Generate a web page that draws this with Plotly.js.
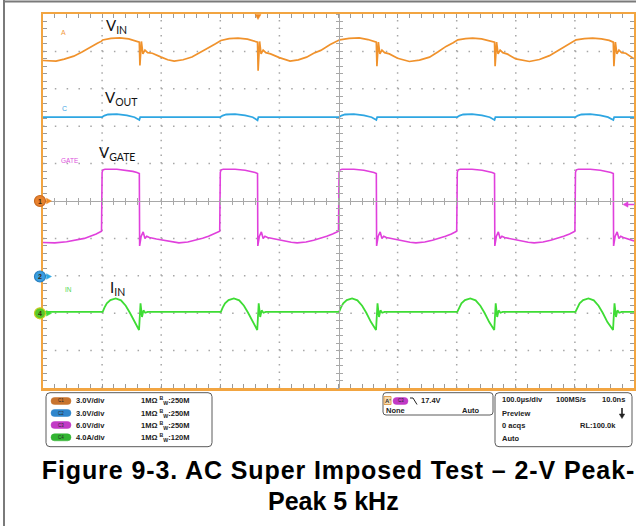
<!DOCTYPE html>
<html><head><meta charset="utf-8">
<script src="https://cdn.plot.ly/plotly-3.0.1.min.js"></script>
<style>html,body{margin:0;padding:0;background:#fff;}#chart{width:636px;height:526px;}</style>
</head><body><div id="chart"></div>
<script>
// ---- data (time in µs, values in channel units) ----
const vinT = [0,10,22,36,52,66,80,92,99,101,115,130,145,157,163,164,166.5,169,172.5,177,185,200,211,222,237,252,266,280,292,299,301,315,330,346,357,363,364,366.5,369,372.5,377,385,400,418,432,446,458,470,486,500,502,518,535,550,558,564,565,567.5,570,573.5,578,586,600,620,637,654,668,682,694,700,702,715,727,742,755,764,765,767.5,770,773.5,778,786,800,823,840,857,871,885,896,900,902,916,930,945,958,965,966,968.5,971,974.5,979,986,1000];
const vinV = [11.27,11.23,11.22,11.38,11.62,11.95,12.35,12.65,12.82,12.92,13.04,13.09,13.0,12.85,12.74,10.87,12.80,11.80,12.10,11.90,11.85,11.54,11.33,11.22,11.33,11.55,11.9,12.3,12.62,12.80,12.88,13.02,13.06,12.98,12.85,12.74,10.45,12.80,11.80,12.10,11.90,11.80,11.50,11.22,11.32,11.54,11.85,12.08,12.55,12.86,12.93,13.05,13.09,12.95,12.82,12.74,10.82,12.74,11.80,12.10,11.90,11.80,11.45,11.19,11.30,11.54,11.95,12.40,12.70,12.85,12.93,13.02,13.06,13.0,12.88,12.74,10.82,12.74,11.80,12.10,11.90,11.78,11.40,11.19,11.35,11.66,12.05,12.45,12.75,12.86,12.93,13.03,13.06,13.0,12.88,12.74,10.82,12.74,11.80,12.10,11.90,11.85,11.41];

const voutT = [0,100,104,110,125,142,155,160,163,164.5,300,304,310,325,342,355,360,363,364.5,501,505,511,526,543,556,561,564,565.5,701,705,711,726,743,756,761,764,765.5,901,905,911,926,943,956,961,965,966.5,1000];
const voutV = [12.73,12.73,12.85,12.94,12.97,12.87,12.72,12.60,12.50,12.73,12.73,12.85,12.94,12.97,12.87,12.72,12.60,12.48,12.73,12.73,12.85,12.94,12.97,12.87,12.72,12.60,12.50,12.73,12.73,12.85,12.94,12.97,12.87,12.72,12.60,12.50,12.73,12.73,12.85,12.94,12.97,12.87,12.72,12.60,12.50,12.73,12.73];

const gateT = [0,20,40,58,70,80,90,99,100,101.5,105,125,142,152,159,163,163.5,166,169.5,172.5,175.5,180,192,203,220,230,245,258,270,280,290,299,300,301.5,305,325,342,352,359,363,363.5,366,369.5,372.5,375.5,380,392,403,420,430,445,458,470,480,490,500,501,502.5,506,526,543,553,560,564,564.5,567,570.5,573.5,576.5,581,593,604,621,631,646,659,671,681,691,700,701,702.5,706,726,743,753,760,764,764.5,767,770.5,773.5,776.5,781,793,804,821,831,846,859,871,881,891,900,901,902.5,906,926,943,953,961,965,965.5,968,971.5,974.5,977.5,982,1000];
const gateV = [11.35,11.28,11.45,11.71,12.0,12.35,12.7,13.15,22.6,23.0,23.09,23.09,22.93,22.75,22.56,22.40,10.80,12.30,13.04,11.98,12.35,12.14,11.9,11.71,11.39,11.28,11.42,11.71,12.02,12.35,12.72,13.15,22.6,23.0,23.09,23.09,22.93,22.75,22.56,22.40,10.80,12.30,13.04,11.98,12.35,12.14,11.9,11.71,11.39,11.28,11.42,11.71,12.02,12.35,12.72,13.15,22.6,23.0,23.09,23.09,22.93,22.75,22.56,22.40,10.80,12.30,13.04,11.98,12.35,12.14,11.9,11.71,11.39,11.28,11.42,11.71,12.02,12.35,12.72,13.15,22.6,23.0,23.09,23.09,22.93,22.75,22.56,22.40,10.80,12.30,13.04,11.98,12.35,12.14,11.9,11.71,11.39,11.28,11.42,11.71,12.02,12.35,12.72,13.15,22.6,23.0,23.09,23.09,22.93,22.75,22.56,22.40,10.80,12.30,13.04,11.98,12.35,12.14,11.60];

const iinT = [0,101,104,108,114,123,132,140,147,155,162.5,165,167.5,170,173,177,301,304,308,314,323,332,340,347,355,362.5,365,367.5,370,373,377,501,504,508,514,523,532,540,547,555,563.5,566,568.5,571,574,578,701,704,708,714,723,732,740,747,755,763.5,766,768.5,771,774,778,901,904,908,914,923,932,940,947,955,964.5,967,969.5,972,975,979,1000];
const iinA = [0.15,0.15,0.6,1.05,1.40,1.58,1.38,0.80,0.05,-0.95,-1.80,1.05,-0.40,0.30,0.05,0.15,0.15,0.6,1.05,1.40,1.58,1.38,0.80,0.05,-0.95,-1.80,1.05,-0.40,0.30,0.05,0.15,0.15,0.6,1.05,1.40,1.58,1.38,0.80,0.05,-0.95,-1.80,1.05,-0.40,0.30,0.05,0.15,0.15,0.6,1.05,1.40,1.58,1.38,0.80,0.05,-0.95,-1.80,1.05,-0.40,0.30,0.05,0.15,0.15,0.6,1.05,1.40,1.58,1.38,0.80,0.05,-0.95,-1.80,1.05,-0.40,0.30,0.05,0.15,0.15];

// channel settings (units/div, position in div)
const chNames = ['C1','C2','C3','C4'];
const chScale = [3, 3, 6, 4];
const chPos = [0, -2, -3, -3];
const chScaleText = ['3.0V/div','3.0V/div','6.0V/div','4.0A/div'];
const chBW = ['250M','250M','250M','120M'];
const chColors = ['#f0922c','#2ea6e2','#e040dc','#3edc34'];
const badgeColors = ['#c8742e','#2f86cc','#c23ac6','#33b533'];
const xDivs = [100,200,300,400,600,700,800,900];
const yDivs = [-4,-3,-2,-1,1,2,3,4];
const toDiv = (arr, ch) => arr.map(v => v / chScale[ch] + chPos[ch]);

// ---- pixel helpers for decorations ----
const L = 43, R = 2, T = 14, B = 138, W = 636, H = 526;
const PW = W - L - R, PH = H - T - B;
const PX = x => (x - L) / PW;
const PY = y => (T + PH - y) / PH;
const pt = (x, y) => PX(x) + ',' + PY(y);

const grid = '#a6a6a6', tick = '#9a9a9a', border = '#f2a541';

const traces = [
  {x: vinT, y: toDiv(vinV, 0), mode: 'lines', line: {color: chColors[0], width: 1.7}},
  {x: voutT, y: toDiv(voutV, 1), mode: 'lines', line: {color: chColors[1], width: 1.8}},
  {x: gateT, y: toDiv(gateV, 2), mode: 'lines', line: {color: chColors[2], width: 1.6}},
  {x: iinT, y: toDiv(iinA, 3), mode: 'lines', line: {color: chColors[3], width: 1.8}},
  {x: [null], y: [null], xaxis: 'x2', yaxis: 'y', mode: 'lines'},
  {x: [null], y: [null], xaxis: 'x3', yaxis: 'y', mode: 'lines'},
  {x: [null], y: [null], xaxis: 'x', yaxis: 'y2', mode: 'lines'},
  {x: [null], y: [null], xaxis: 'x', yaxis: 'y3', mode: 'lines'}
].map(t => Object.assign({showlegend: false, hoverinfo: 'skip'}, t));

const centerAx = (ticks, isX) => ({
  overlaying: isX ? 'x' : 'y', anchor: 'free', position: 0.5,
  range: isX ? [0, 1000] : [-5, 5], dtick: isX ? 20 : 0.2, tick0: 0,
  showline: true, linecolor: '#a8a8a8', linewidth: 1,
  ticks: ticks, ticklen: 3, tickwidth: 1, tickcolor: '#a8a8a8',
  showgrid: false, zeroline: false, showticklabels: false, fixedrange: true
});

const shapes = [];
const ann = [];
// dotted graticule
xDivs.forEach(v => shapes.push({type: 'line', xref: 'x', yref: 'paper', x0: v, x1: v, y0: 0, y1: 1, layer: 'below',
  line: {color: grid, width: 1.5, dash: '1.5px,5.98px'}}));
yDivs.forEach(v => shapes.push({type: 'line', xref: 'paper', yref: 'y', x0: 0, x1: 1, y0: v, y1: v, layer: 'below',
  line: {color: grid, width: 1.5, dash: '1.5px,10.32px'}}));

function rr(x0, y0, x1, y1, r) {
  return 'M' + pt(x0 + r, y0) + ' L' + pt(x1 - r, y0) + ' Q' + pt(x1, y0) + ' ' + pt(x1, y0 + r) +
    ' L' + pt(x1, y1 - r) + ' Q' + pt(x1, y1) + ' ' + pt(x1 - r, y1) +
    ' L' + pt(x0 + r, y1) + ' Q' + pt(x0, y1) + ' ' + pt(x0, y1 - r) +
    ' L' + pt(x0, y0 + r) + ' Q' + pt(x0, y0) + ' ' + pt(x0 + r, y0) + ' Z';
}
function pathShape(d, fill, line, lw) {
  shapes.push({type: 'path', xref: 'paper', yref: 'paper', path: d, fillcolor: fill || 'rgba(0,0,0,0)',
    line: {color: line || 'rgba(0,0,0,0)', width: lw === undefined ? 1 : lw}});
}
function text(x, y, s, size, color, anchor, weight) {
  ann.push({x: PX(x), y: PY(y), xref: 'paper', yref: 'paper', text: s, showarrow: false,
    xanchor: anchor || 'left', yanchor: 'middle',
    font: {family: 'Liberation Sans, Arial, sans-serif', size: size, color: color, weight: weight || 'normal'}});
}

// outer frame
shapes.push({type: 'line', xref: 'paper', yref: 'paper', x0: PX(4), x1: PX(4), y0: PY(0), y1: PY(526), line: {color: '#7a7a7a', width: 2}});
shapes.push({type: 'line', xref: 'paper', yref: 'paper', x0: PX(3), x1: PX(636), y0: PY(1.5), y1: PY(1.5), line: {color: '#7a7a7a', width: 2}});

// trigger position marker (top) and trigger level marker (right)
pathShape('M' + pt(255, 14.5) + ' L' + pt(261, 14.5) + ' L' + pt(258, 19.5) + ' Z', '#f08a24', '#f08a24', 0.5);
pathShape('M' + pt(623, 204.5) + ' L' + pt(628, 201.8) + ' L' + pt(628, 207.2) + ' Z', '#e040dc', '#e040dc', 0.5);
shapes.push({type: 'line', xref: 'paper', yref: 'paper', x0: PX(627), x1: PX(634), y0: PY(204.5), y1: PY(204.5), line: {color: '#e040dc', width: 1.5}});

// channel ground markers on the left
const markers = [
  {n: '1', y: 201, fill: '#e8822e', ring: '#c86a20', arrow: '#f08a24'},
  {n: '2', y: 276.5, fill: '#3a9ee0', ring: '#2a80c0', arrow: '#2ea6e2'},
  {n: '4', y: 313.3, fill: '#58c828', ring: '#c8cc20', arrow: '#3edc34'}
];
markers.forEach(m => {
  shapes.push({type: 'circle', xref: 'paper', yref: 'paper', x0: PX(34.5), x1: PX(45.5), y0: PY(m.y - 5.5), y1: PY(m.y + 5.5),
    fillcolor: m.fill, line: {color: m.ring, width: 1.2}});
  pathShape('M' + pt(46.5, m.y - 2.8) + ' L' + pt(51.5, m.y) + ' L' + pt(46.5, m.y + 2.8) + ' Z', m.arrow, m.arrow, 0.5);
  text(40, m.y, m.n, 7, '#3a2a10', 'center', 'bold');
});

// small channel labels in the graticule
text(63.5, 33, 'A', 7, '#f29a40', 'center');
text(64.3, 108.5, 'C', 7, '#3aa6e4', 'center');
text(70, 160, 'GATE', 6.5, '#dc50dc', 'center');
text(68.3, 289, 'IN', 6.5, '#50d850', 'center');

// big signal labels
const bigFont = {family: 'Lato, Open Sans, sans-serif', size: 15, color: '#111'};
[['V<sub>IN</sub>', 104, 25.5], ['V<sub>OUT</sub>', 103, 97.5], ['V<sub>GATE</sub>', 96.5, 153], ['I<sub>IN</sub>', 108, 288]].forEach(a => {
  ann.push({x: PX(a[1]), y: PY(a[2]), xref: 'paper', yref: 'paper', text: a[0], showarrow: false,
    xanchor: 'left', yanchor: 'middle', font: bigFont});
});

// ---- bottom info panels ----
pathShape(rr(46, 392.7, 212, 446.7, 4), '#ffffff', '#5a5a5a', 1);
const rowY = [401, 413, 425, 437.3];
chNames.forEach((c, i) => {
  pathShape(rr(51, rowY[i] - 3.5, 71, rowY[i] + 3.5, 3.5), badgeColors[i], badgeColors[i], 0.5);
  text(61, rowY[i], c, 4.5, '#2a2a2a', 'center');
  text(74, rowY[i], chScaleText[i], 7.5, '#222', 'left', 'bold');
  text(139, rowY[i], '1MΩ <sup>B</sup><sub>W</sub>:' + chBW[i], 7.5, '#222', 'left', 'bold');
});

pathShape(rr(383, 392.7, 493, 415, 3), '#ffffff', '#5a5a5a', 1);
shapes.push({type: 'rect', xref: 'paper', yref: 'paper', x0: PX(384), x1: PX(391), y0: PY(396.5), y1: PY(404.5),
  fillcolor: '#f6dcb0', line: {color: '#e0a050', width: 1}});
text(387.5, 400.5, "A'", 6, '#333', 'center', 'bold');
pathShape(rr(393, 397.5, 408, 404.5, 3.5), '#c23ac6', '#c23ac6', 0.5);
text(400.5, 401, 'C3', 4.5, '#2a2a2a', 'center');
pathShape('M' + pt(410, 398) + ' L' + pt(413, 398) + ' L' + pt(417, 404.5), null, '#222', 1);
text(419, 401, '17.4V', 7.5, '#222', 'left', 'bold');
text(384, 410.7, 'None', 7.5, '#222', 'left', 'bold');
text(481, 410.7, 'Auto', 7.5, '#222', 'right', 'bold');

pathShape(rr(495, 392.7, 632, 446.7, 4), '#ffffff', '#5a5a5a', 1);
text(500, 400, '100.0µs/div', 7.5, '#222', 'left', 'bold');
text(554, 400, '100MS/s', 7.5, '#222', 'left', 'bold');
text(627, 400, '10.0ns', 7.5, '#222', 'right', 'bold');
text(500, 413, 'Preview', 7.5, '#222', 'left', 'bold');
shapes.push({type: 'line', xref: 'paper', yref: 'paper', x0: PX(622), x1: PX(622), y0: PY(408), y1: PY(415), line: {color: '#222', width: 1.6}});
pathShape('M' + pt(619.3, 414) + ' L' + pt(624.7, 414) + ' L' + pt(622, 418.5) + ' Z', '#222', '#222', 0.5);
text(500, 425.7, '0 acqs', 7.5, '#222', 'left', 'bold');
text(618, 425.7, 'RL:100.0k', 7.5, '#222', 'right', 'bold');
text(500, 438.3, 'Auto', 7.5, '#222', 'left', 'bold');

// caption
const capFont = {family: 'Liberation Sans, Arial, sans-serif', size: 25, color: '#000', weight: 'bold'};
ann.push({x: PX(338), y: PY(470), xref: 'paper', yref: 'paper', text: 'Figure 9-3. AC Super Imposed Test – 2-V Peak-',
  showarrow: false, xanchor: 'center', yanchor: 'middle', font: capFont});
ann.push({x: PX(333.5), y: PY(500.5), xref: 'paper', yref: 'paper', text: 'Peak 5 kHz',
  showarrow: false, xanchor: 'center', yanchor: 'middle', font: capFont});

const layout = {
  width: W, height: H, margin: {l: L, r: R, t: T, b: B, pad: 0},
  paper_bgcolor: '#ffffff', plot_bgcolor: '#ffffff', showlegend: false,
  xaxis: {range: [0, 1000], dtick: 100, tick0: 0, showgrid: false,
    zeroline: false, showline: true, linecolor: border, linewidth: 2.5, mirror: 'allticks',
    ticks: 'inside', ticklen: 4, tickwidth: 1, tickcolor: tick,
    minor: {dtick: 20, tick0: 0, ticks: 'inside', ticklen: 3, tickwidth: 1, tickcolor: tick, showgrid: false},
    showticklabels: false, fixedrange: true},
  yaxis: {range: [-5, 5], dtick: 1, tick0: 0, showgrid: false,
    zeroline: false, showline: true, linecolor: border, linewidth: 2.5, mirror: 'allticks',
    ticks: 'inside', ticklen: 4, tickwidth: 1, tickcolor: tick,
    minor: {dtick: 0.2, tick0: 0, ticks: 'inside', ticklen: 3, tickwidth: 1, tickcolor: tick, showgrid: false},
    showticklabels: false, fixedrange: true},
  xaxis2: centerAx('outside', true),
  xaxis3: centerAx('inside', true),
  yaxis2: centerAx('outside', false),
  yaxis3: centerAx('inside', false),
  shapes: shapes,
  annotations: ann
};

Plotly.newPlot('chart', traces, layout, {staticPlot: true, displayModeBar: false}).then(gd => {
  // the printed caption's first line is set slightly wider (justified) than its natural width
  gd.querySelectorAll('.annotation-text').forEach(el => {
    if (el.textContent.indexOf('Figure 9-3') === 0) el.style.letterSpacing = '0.9px';
  });
});
</script></body></html>
